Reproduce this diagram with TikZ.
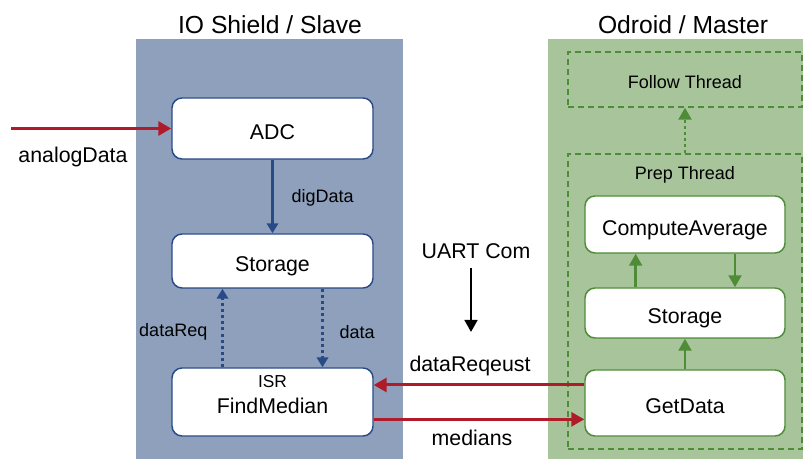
\documentclass[tikz,border=0pt]{standalone}
\usepackage{fontspec}
\setmainfont{Liberation Sans}
\usetikzlibrary{arrows.meta}
\definecolor{slavebg}{RGB}{142,160,188}
\definecolor{masterbg}{RGB}{167,196,154}
\definecolor{slaveln}{RGB}{40,75,135}
\definecolor{masterln}{RGB}{78,140,55}
\definecolor{linkred}{RGB}{176,27,42}
\tikzset{
  fbig/.style={font=\fontsize{16}{19}\selectfont},
  fsmall/.style={font=\fontsize{13.5}{16}\selectfont},
  ftitle/.style={font=\fontsize{18.5}{22}\selectfont},
  boxtext/.style={fbig, text height=16pt, text depth=0pt},
  slavebox/.style={draw=slaveln, line width=1.1pt, fill=white, rounded corners=7.5pt,
    minimum width=150.75pt, inner sep=0pt, boxtext},
  masterbox/.style={draw=masterln, line width=1.1pt, fill=white, rounded corners=7.5pt,
    minimum width=150pt, inner sep=0pt, boxtext},
  threadbox/.style={draw=masterln, line width=1pt, dash pattern=on 4.5pt off 3pt,
    minimum width=175.5pt, inner sep=0pt},
  bluearrow/.style={draw=slaveln, line width=1.9pt, -{Triangle[length=7.5pt,width=8.5pt]}},
  bluedotted/.style={bluearrow, dash pattern=on 2.3pt off 2.3pt},
  greenarrow/.style={draw=masterln, line width=2.2pt, -{Triangle[length=9pt,width=9.5pt]}},
  greendotted/.style={greenarrow, dash pattern=on 2.3pt off 2.3pt},
  redarrow/.style={draw=linkred, line width=2.25pt, -{Triangle[length=9.75pt,width=10.5pt]}},
}
\begin{document}
\begin{tikzpicture}[x=0.75pt, y=-0.75pt]
\useasboundingbox (0,0) rectangle (803,459);

% device panels
\fill[slavebg] (136,39) rectangle (403,459);
\fill[masterbg] (548,39) rectangle (803,459);
\node[ftitle] (slavetitle) at (270,25) {IO Shield / Slave};
\node[ftitle] (mastertitle) at (683,25) {Odroid / Master};

% thread frames on the master
\node[threadbox, minimum height=41.25pt] (follow) at (685,79.5) {};
\node[fsmall] (followtxt) at (685,82) {Follow Thread};
\node[threadbox, minimum height=221.25pt] (prep) at (685,301.5) {};
\node[fsmall] (preptxt) at (685,175) {Prep Thread};

% slave blocks
\node[slavebox, minimum height=45.75pt] (adc) at (272.5,128.5) {ADC};
\node[slavebox, minimum height=40.5pt] (sstore) at (272.5,261) {Storage};
\node[slavebox, minimum height=51pt] (fm) at (272.5,402) {};
\node[font=\fontsize{13}{15}\selectfont] (isr) at (272.5,382) {ISR};
\node[fbig] (fmtxt) at (272.5,406) {FindMedian};

% master blocks
\node[masterbox, minimum height=42.75pt] (avg) at (685,224.5) {ComputeAverage};
\node[masterbox, minimum height=37.5pt] (mstore) at (685,313) {Storage};
\node[masterbox, minimum height=49.5pt] (gd) at (685,403) {GetData};

% slave internal flow
\draw[bluearrow] (adc.south) -- (sstore.north);
\node[fsmall, anchor=west] (digl) at (287,198) {digData};
\draw[bluedotted] ([xshift=-37.5pt]fm.north) -- ([xshift=-37.5pt]sstore.south);
\draw[bluedotted] ([xshift=37.5pt]sstore.south) -- ([xshift=37.5pt]fm.north);
\node[fsmall, anchor=east] (reql) at (212,332) {dataReq};
\node[fsmall, anchor=west] (datal) at (335,332) {data};

% master internal flow
\draw[greendotted] (prep.north) -- (follow.south);
\draw[greenarrow] ([xshift=-37pt]mstore.north) -- ([xshift=-37pt]avg.south);
\draw[greenarrow] ([xshift=37.5pt]avg.south) -- ([xshift=37.5pt]mstore.north);
\draw[greenarrow] (gd.north) -- (mstore.south);

% analog input
\coordinate (src) at (11,128.5);
\draw[redarrow] (src) -- (adc.west);
\node[fbig] (anl) at (73,157) {analogData};

% UART link
\node[fbig] (uart) at (476,251) {UART Com};
\coordinate (uarttop) at (471,268);
\coordinate (uarttip) at (471,332);
\draw[line width=2pt, -{Triangle[length=9pt,width=9.5pt]}] (uarttop) -- (uarttip);
\draw[redarrow] ([yshift=13.5pt]gd.west) -- ([yshift=13.5pt]gd.west -| fm.east);
\draw[redarrow] ([yshift=-13pt]fm.east) -- ([yshift=-13pt]fm.east -| gd.west);
\node[fbig] (reqlab) at (470,366) {dataReqeust};
\node[fbig] (medlab) at (472,438) {medians};
\end{tikzpicture}
\end{document}
